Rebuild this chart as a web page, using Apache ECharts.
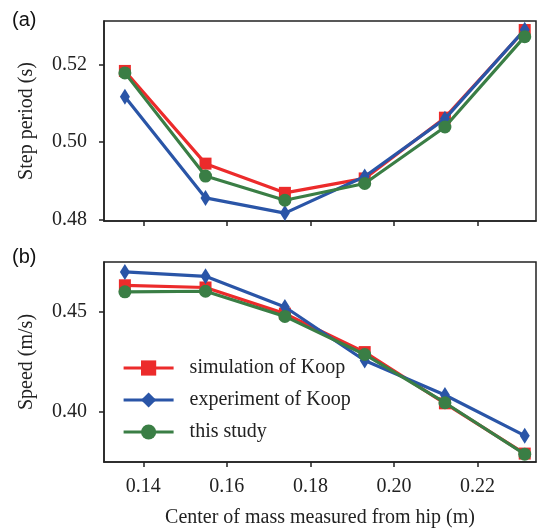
<!DOCTYPE html>
<html>
<head>
    <meta charset="utf-8">
    <title>Step period and speed</title>
    <script src="https://cdn.jsdelivr.net/npm/echarts@6/dist/echarts.min.js"></script>
    <style>
        html, body { margin: 0; padding: 0; background: #fff; }
        #main { width: 537px; height: 531px; }
    </style>
</head>
<body>
    <div id="main"></div>
    <script type="text/javascript">
    // center of mass measured from hip (m)
    var comX = [0.1356, 0.1549, 0.1739, 0.1930, 0.2122, 0.2313];

    // (a) step period (s)
    var periodSim = [0.5183, 0.4945, 0.4870, 0.4907, 0.5063, 0.5288];
    var periodExp = [0.5117, 0.4857, 0.4818, 0.4912, 0.5060, 0.5289];
    var periodOurs = [0.5178, 0.4913, 0.4851, 0.4894, 0.5039, 0.5271];

    // (b) speed (m/s)
    var speedSim = [0.4634, 0.4623, 0.4492, 0.4299, 0.4042, 0.3790];
    var speedExp = [0.4701, 0.4679, 0.4525, 0.4257, 0.4084, 0.3880];
    var speedOurs = [0.4601, 0.4604, 0.4478, 0.4287, 0.4045, 0.3787];

    var names = ['simulation of Koop', 'experiment of Koop', 'this study'];
    var xTicks = [0.14, 0.16, 0.18, 0.20, 0.22];
    var periodTicks = [0.48, 0.50, 0.52];
    var speedTicks = [0.40, 0.45];

    var serif = 'Liberation Serif';
    var ink = '#222';
    var colors = ['#ec2b2b', '#2a55a7', '#3a7e45'];
    var symbols = ['rect', 'diamond', 'circle'];
    var symbolSizes = [12, [10, 16], 13];

    var pairs = function (ys) {
        return comX.map(function (x, i) { return [x, ys[i]]; });
    };

    var makeX = function (gridIndex, showLabels, withName) {
        return {
            type: 'value', gridIndex: gridIndex,
            min: 0.1306, max: 0.2340,
            name: withName ? 'Center of mass measured from hip (m)' : '',
            nameLocation: 'middle', nameGap: 46,
            nameTextStyle: { fontFamily: serif, fontSize: 20, color: ink },
            axisLine: { show: true, onZero: false, lineStyle: { color: ink, width: 1.5 } },
            axisTick: { show: true, inside: false, length: 5, customValues: xTicks, lineStyle: { color: ink, width: 1.5 } },
            axisLabel: {
                show: showLabels, margin: 15, customValues: xTicks,
                fontFamily: serif, fontSize: 20, color: ink,
                formatter: function (v) { return v.toFixed(2); }
            },
            splitLine: { show: false }
        };
    };

    var makeY = function (gridIndex, name, min, max, ticks) {
        return {
            type: 'value', gridIndex: gridIndex,
            min: min, max: max,
            name: name, nameLocation: 'middle', nameGap: 67,
            nameTextStyle: { fontFamily: serif, fontSize: 20, color: ink },
            axisLine: { show: true, onZero: false, lineStyle: { color: ink, width: 1.5 } },
            axisTick: { show: true, inside: false, length: 5, customValues: ticks, lineStyle: { color: ink, width: 1.5 } },
            axisLabel: {
                margin: 17, customValues: ticks,
                fontFamily: serif, fontSize: 20, color: ink,
                formatter: function (v) { return v.toFixed(2); }
            },
            splitLine: { show: false }
        };
    };

    var makeSeries = function (k, ys, axisIndex) {
        return {
            name: names[k], type: 'line',
            xAxisIndex: axisIndex, yAxisIndex: axisIndex,
            data: pairs(ys),
            symbol: symbols[k], symbolSize: symbolSizes[k],
            showAllSymbol: true,
            color: colors[k],
            itemStyle: { color: colors[k] },
            lineStyle: { color: colors[k], width: 3.2 },
            z: 2 + k,
            animation: false
        };
    };

    var chart = echarts.init(document.getElementById('main'), null, { renderer: 'canvas' });
    chart.setOption({
        animation: false,
        backgroundColor: '#fff',
        grid: [
            { left: 104, top: 21, width: 432, height: 200, show: true, borderColor: ink, borderWidth: 1.5, backgroundColor: 'transparent' },
            { left: 104, top: 262, width: 432, height: 200, show: true, borderColor: ink, borderWidth: 1.5, backgroundColor: 'transparent' }
        ],
        xAxis: [makeX(0, false, false), makeX(1, true, true)],
        yAxis: [
            makeY(0, 'Step period (s)', 0.47977, 0.53112, periodTicks),
            makeY(1, 'Speed (m/s)', 0.37478, 0.47508, speedTicks)
        ],
        legend: {
            orient: 'vertical', left: 122, top: 358, padding: 0,
            itemWidth: 50, itemHeight: 19, itemGap: 12,
            data: names,
            lineStyle: { width: 3.2 },
            textStyle: { fontFamily: serif, fontSize: 20, color: ink, lineHeight: 20, padding: [0, 0, 0, 11] }
        },
        graphic: [
            { type: 'text', left: 12, top: 10, style: { text: '(a)', font: '20px "Liberation Sans"', fill: '#111' } },
            { type: 'text', left: 12, top: 247, style: { text: '(b)', font: '20px "Liberation Sans"', fill: '#111' } }
        ],
        series: [
            makeSeries(0, periodSim, 0),
            makeSeries(1, periodExp, 0),
            makeSeries(2, periodOurs, 0),
            makeSeries(0, speedSim, 1),
            makeSeries(1, speedExp, 1),
            makeSeries(2, speedOurs, 1)
        ]
    });
    </script>
</body>
</html>
